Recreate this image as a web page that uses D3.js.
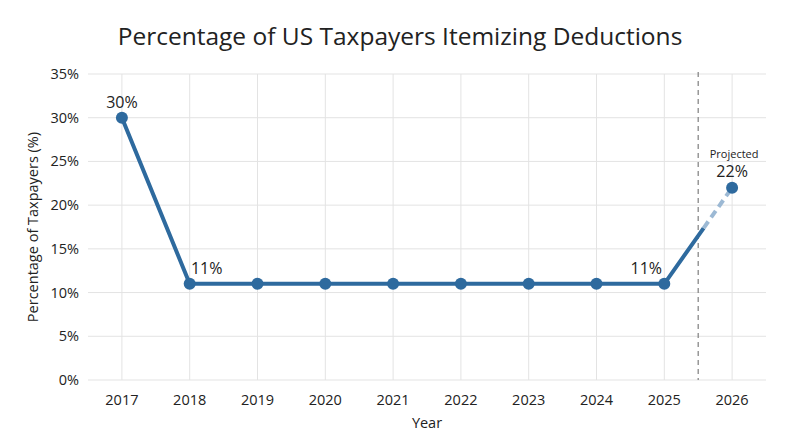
<!DOCTYPE html>
<html><head><meta charset="utf-8">
<script src="https://cdn.jsdelivr.net/npm/d3@7"></script>
<style>body{margin:0;background:#fff}text{font-family:"Open Sans",sans-serif;fill:#222}</style>
</head><body>
<script>
var years = [2017, 2018, 2019, 2020, 2021, 2022, 2023, 2024, 2025, 2026];
var pct = [30, 11, 11, 11, 11, 11, 11, 11, 11, 22];
var yTicks = [0, 5, 10, 15, 20, 25, 30, 35];

var W = 800, H = 447, m = {l: 88, r: 34, t: 74, b: 67};
var svg = d3.select("body").append("svg").attr("width", W).attr("height", H);
var x = d3.scaleLinear().domain([2016.5, 2026.5]).range([m.l, W - m.r]);
var y = d3.scaleLinear().domain([0, 35]).range([H - m.b, m.t]);

// grid
svg.selectAll(".hg").data(yTicks).enter().append("line")
  .attr("x1", m.l).attr("x2", W - m.r).attr("y1", y).attr("y2", y)
  .attr("stroke", "#e3e3e3");
svg.selectAll(".vg").data(years).enter().append("line")
  .attr("x1", x).attr("x2", x).attr("y1", m.t).attr("y2", H - m.b)
  .attr("stroke", "#e3e3e3");

svg.selectAll(".yt").data(yTicks).enter().append("text")
  .attr("x", m.l - 9).attr("y", function(d){return y(d) + 5;})
  .attr("text-anchor", "end").attr("font-size", 14.5).text(function(d){return d + "%";});
svg.selectAll(".xt").data(years).enter().append("text")
  .attr("x", x).attr("y", H - m.b + 25)
  .attr("text-anchor", "middle").attr("font-size", 14.5).text(function(d){return d;});

svg.append("text").attr("x", 400).attr("y", 45).attr("text-anchor", "middle")
  .attr("font-size", 24.5).text("Percentage of US Taxpayers Itemizing Deductions");
svg.append("text").attr("x", x(2021.5)).attr("y", 428).attr("text-anchor", "middle")
  .attr("font-size", 14.5).text("Year");
svg.append("text").attr("transform", "translate(38," + y(17.5) + ") rotate(-90)")
  .attr("text-anchor", "middle").attr("font-size", 14.5).text("Percentage of Taxpayers (%)");

// divider
svg.append("line").attr("x1", x(2025.5)).attr("x2", x(2025.5))
  .attr("y1", m.t - 2).attr("y2", H - m.b)
  .attr("stroke", "#888").attr("stroke-width", 1.3).attr("stroke-dasharray", "5,4");

var pts = years.map(function(d, i){return [d, pct[i]];});
var split = 2025.58, splitV = 11 + (22 - 11) * (split - 2025);
var line = d3.line().x(function(d){return x(d[0]);}).y(function(d){return y(d[1]);});
svg.append("path").datum(pts.slice(0, 9).concat([[split, splitV]]))
  .attr("d", line).attr("fill", "none").attr("stroke", "#2e6a9e").attr("stroke-width", 4);
svg.append("path").datum([[split, splitV], pts[9]])
  .attr("d", line).attr("fill", "none").attr("stroke", "#9cb9d4")
  .attr("stroke-width", 4).attr("stroke-dasharray", "8,5");

svg.selectAll(".pt").data(pts).enter().append("circle")
  .attr("cx", function(d){return x(d[0]);}).attr("cy", function(d){return y(d[1]);})
  .attr("r", 6).attr("fill", "#2e6a9e");

var labels = [[2017, 30, 0, -10], [2018, 11, 17, -10], [2025, 11, -18, -10], [2026, 22, 0, -11]];
svg.selectAll(".lb").data(labels).enter().append("text")
  .attr("x", function(d){return x(d[0]) + d[2];}).attr("y", function(d){return y(d[1]) + d[3];})
  .attr("text-anchor", "middle").attr("font-size", 16).text(function(d){return d[1] + "%";});
svg.append("text").attr("x", x(2026) + 2).attr("y", y(22) - 30)
  .attr("text-anchor", "middle").attr("font-size", 11).text("Projected");
</script>
</body></html>
